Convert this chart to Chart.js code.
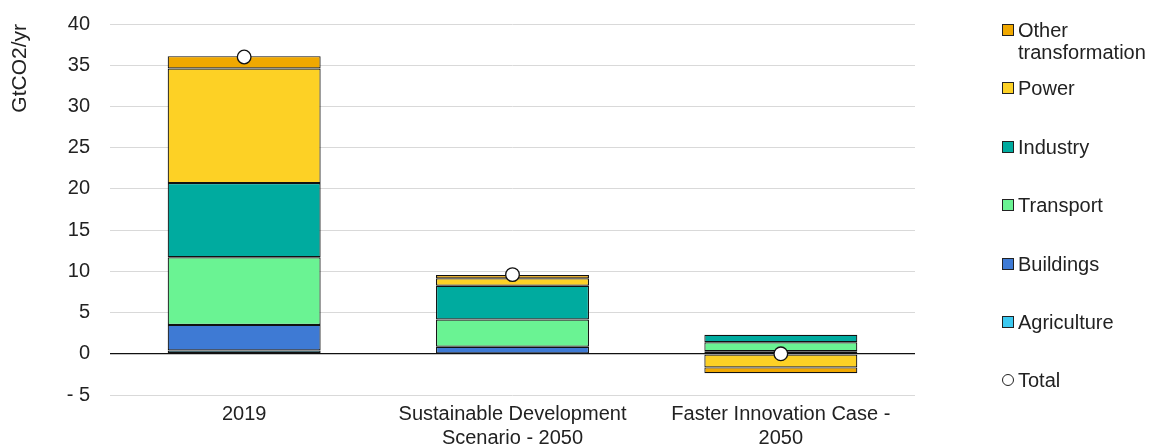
<!DOCTYPE html>
<html>
<head>
<meta charset="utf-8">
<script src="https://cdn.jsdelivr.net/npm/chart.js@4.4.1/dist/chart.umd.min.js"></script>
<style>
  html, body { margin: 0; padding: 0; background: #fff; }
  #wrap { position: relative; width: 1151px; height: 446px; }
  #c { position: absolute; left: 0; top: 0; }
  #legend { position: absolute; left: 0; top: 0; font-family: "Liberation Sans", Arial, sans-serif; font-size: 20px; color: #222; }
  .item { position: absolute; left: 1002px; line-height: 22px; white-space: nowrap; }
  .box { position: absolute; left: 0; top: 5px; width: 10px; height: 10px; border: 1px solid #222; }
  .circ { position: absolute; left: 0; top: 5px; width: 10px; height: 10px; border: 1px solid #222; border-radius: 50%; background: #fff; }
  .txt { position: absolute; left: 16px; top: 0; }
</style>
</head>
<body>
<div id="wrap">
  <canvas id="c" width="1151" height="446"></canvas>
  <div id="legend"></div>
</div>
<script>
const categories = [["2019"], ["Sustainable Development", "Scenario - 2050"], ["Faster Innovation Case -", "2050"]];
const agriculture = [0.4, 0.05, 0.1];
const buildings = [3.1, 0.8, 0.2];
const transport = [8.2, 3.3, 1.1];
const industry = [9.0, 4.1, 0.9];
const power = [13.9, 0.9, -1.65];
const otherTransformation = [1.5, 0.4, -0.7];
const total = [36.0, 9.6, 0.0];
const yTicks = [-5, 0, 5, 10, 15, 20, 25, 30, 35, 40];

const colors = {
  other: "#F0A800",
  power: "#FDD125",
  industry: "#00AB9F",
  transport: "#6AF393",
  buildings: "#3E7AD4",
  agriculture: "#3CC9F0"
};

function bar(label, data, color) {
  return {
    type: "bar", label, data, backgroundColor: color, borderColor: "#111",
    borderWidth: 1.2, borderSkipped: false, stack: "s", order: 1,
    barPercentage: 0.57, categoryPercentage: 1.0
  };
}

const datasets = [
  { type: "line", label: "Total", data: total, stack: "total", order: 0, showLine: false,
    pointRadius: 6.8, pointBackgroundColor: "#fff", pointBorderColor: "#111", pointBorderWidth: 1.3 },
  bar("Agriculture", agriculture, colors.agriculture),
  bar("Buildings", buildings, colors.buildings),
  bar("Transport", transport, colors.transport),
  bar("Industry", industry, colors.industry),
  bar("Power", power, colors.power),
  bar("Other transformation", otherTransformation, colors.other)
];

const FONT = "'Liberation Sans', Arial, sans-serif";

new Chart(document.getElementById("c"), {
  type: "bar",
  data: { labels: categories, datasets },
  options: {
    responsive: false,
    animation: false,
    layout: { padding: { left: 0, right: 236, top: 24, bottom: 0 } },
    plugins: { legend: { display: false }, tooltip: { enabled: false } },
    scales: {
      x: {
        stacked: true,
        grid: { display: false, drawTicks: false },
        border: { display: false },
        afterFit: (s) => { s.height = 51; },
        ticks: { color: "#222", font: { family: FONT, size: 20, lineHeight: 1.2 }, padding: 7, maxRotation: 0, autoSkip: false }
      },
      y: {
        stacked: true,
        min: -5, max: 40,
        afterBuildTicks: (axis) => { axis.ticks = yTicks.map(v => ({ value: v })); },
        afterFit: (s) => { s.width = 110; s.paddingTop = 0; s.paddingBottom = 0; },
        grid: {
          color: (ctx) => ctx.tick && ctx.tick.value === 0 ? "#111" : "#d9d9d9",
          lineWidth: (ctx) => ctx.tick && ctx.tick.value === 0 ? 1.3 : 1,
          drawTicks: false
        },
        border: { display: false },
        ticks: {
          color: "#222", font: { family: FONT, size: 20 }, padding: 20,
          callback: (v) => v < 0 ? "- " + Math.abs(v) : String(v)
        },
        title: { display: true, text: "GtCO2/yr", align: "end", color: "#222", font: { family: FONT, size: 21 }, padding: { top: 8, bottom: 0 } }
      }
    }
  }
});

const legendItems = [
  { label: ["Other", "transformation"], color: colors.other, top: 19 },
  { label: ["Power"], color: colors.power, top: 77 },
  { label: ["Industry"], color: colors.industry, top: 136 },
  { label: ["Transport"], color: colors.transport, top: 194 },
  { label: ["Buildings"], color: colors.buildings, top: 253 },
  { label: ["Agriculture"], color: colors.agriculture, top: 311 },
  { label: ["Total"], circle: true, top: 369 }
];
const lg = document.getElementById("legend");
legendItems.forEach(it => {
  const d = document.createElement("div");
  d.className = "item";
  d.style.top = it.top + "px";
  const b = document.createElement("div");
  b.className = it.circle ? "circ" : "box";
  if (!it.circle) b.style.background = it.color;
  const t = document.createElement("div");
  t.className = "txt";
  t.innerHTML = it.label.join("<br>");
  d.appendChild(b); d.appendChild(t);
  lg.appendChild(d);
});
</script>
</body>
</html>
